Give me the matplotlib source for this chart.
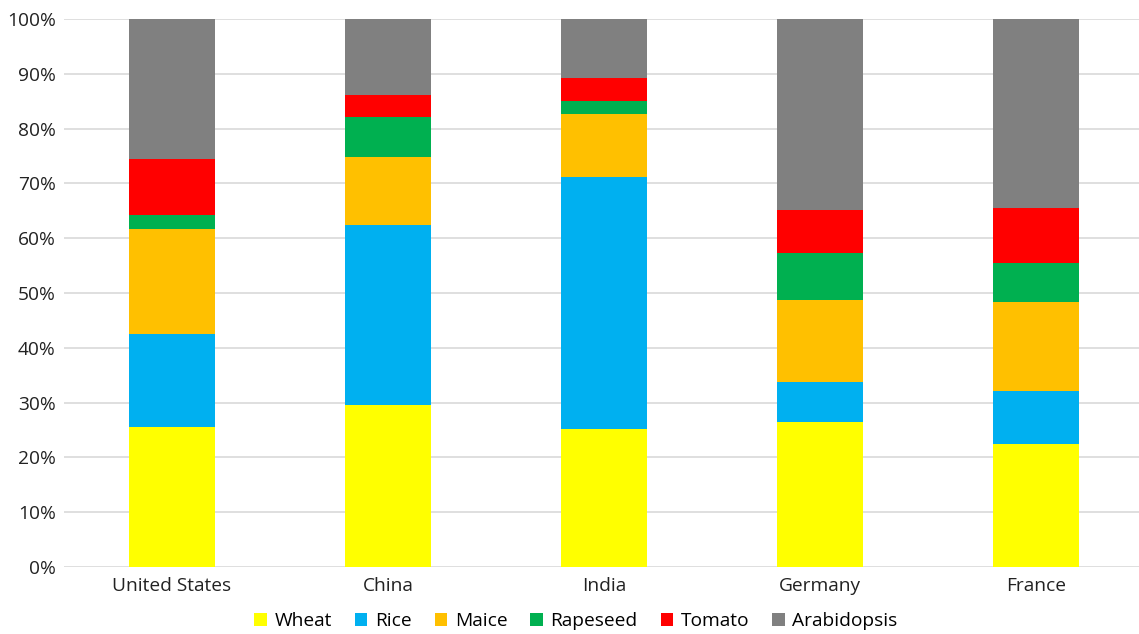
import matplotlib
matplotlib.use("Agg")
import matplotlib.pyplot as plt
import numpy as np
from matplotlib.patches import Patch

countries = ["United States", "China", "India", "Germany", "France"]
series = ["Wheat", "Rice", "Maice", "Rapeseed", "Tomato", "Arabidopsis"]
colors = ["#FFFF00", "#00B0F0", "#FFC000", "#00B050", "#FF0000", "#808080"]

# segment values (%)
wheat = [25.6, 29.6, 25.1, 26.5, 22.5]
rice = [16.9, 32.8, 46.1, 7.2, 9.7]
maice = [19.2, 12.5, 11.5, 15.1, 16.1]
rapeseed = [2.5, 7.2, 2.4, 8.5, 7.1]
tomato = [10.2, 4.1, 4.1, 7.8, 10.2]
arabidopsis = [25.6, 13.8, 10.8, 34.9, 34.4]

data = [wheat, rice, maice, rapeseed, tomato, arabidopsis]

plt.rcParams['font.family'] = ['Open Sans', 'DejaVu Sans']
fig = plt.figure(figsize=(11.39, 6.34), dpi=100)
ax = fig.add_axes([64/1139, 1-567/634, 1080/1139, 548/634])

x = np.arange(len(countries))
bottom = np.zeros(len(countries))
for vals, col, name in zip(data, colors, series):
    v = np.array(vals)
    ax.bar(x, v, 0.4, bottom=bottom, color=col, label=name, zorder=3)
    bottom += v

ax.set_xlim(-0.5, 4.5)
ax.set_ylim(0, 100)
ax.set_yticks(np.arange(0, 101, 10))
ax.set_yticklabels([f"{t}%" for t in range(0, 101, 10)])
ax.set_xticks(x)
ax.set_xticklabels(countries)
ax.grid(axis='y', color='#D9D9D9', linewidth=1.2, zorder=0)
for s in ax.spines.values():
    s.set_visible(False)
ax.tick_params(length=0, labelsize=13.8, colors='#222222')
ax.tick_params(axis='y', pad=6)
ax.tick_params(axis='x', pad=7)

handles = [Patch(facecolor=c, label=n) for c, n in zip(colors, series)]
fig.legend(handles=handles, loc='center', bbox_to_anchor=(576/1139, 1-621/634),
           ncol=6, frameon=False, fontsize=13.8, handlelength=0.65, handleheight=0.65,
           handletextpad=0.4, columnspacing=1.2)

fig.savefig("out.png", dpi=100)
